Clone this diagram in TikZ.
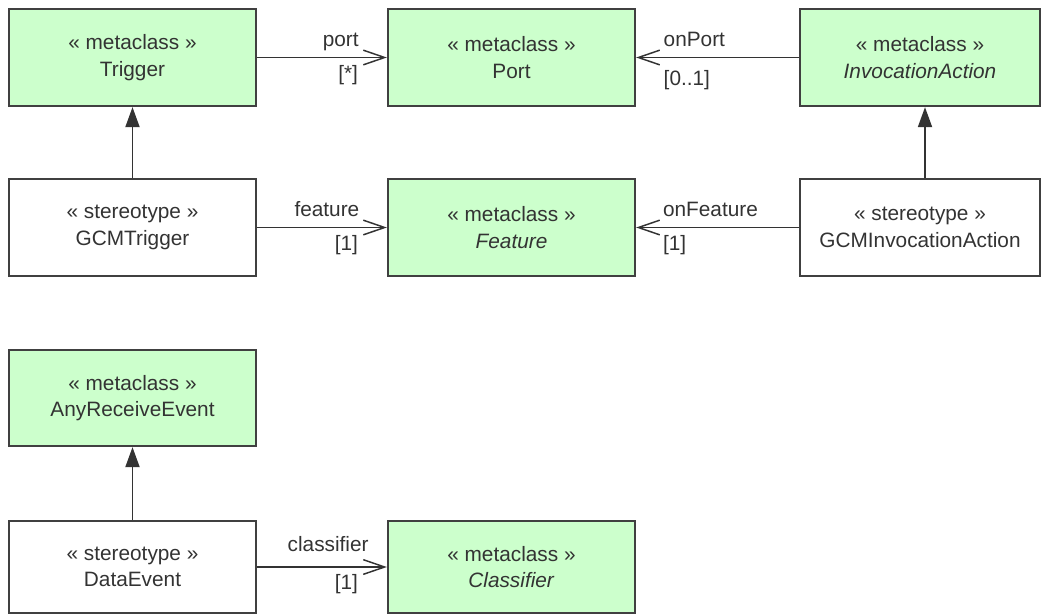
\documentclass[tikz,border=0pt]{standalone}
\usepackage{fontspec}
\setmainfont{Liberation Sans}
\usetikzlibrary{arrows.meta}
\definecolor{boxfill}{HTML}{CCFFCC}
\definecolor{boxline}{HTML}{404040}
\definecolor{txt}{HTML}{333333}
\tikzset{
  umlbox/.style={draw=boxline, line width=1.7pt, inner sep=0pt, align=center,
    text=txt, minimum width=185.25pt, minimum height=72.75pt},
  meta/.style={umlbox, fill=boxfill},
  stereo/.style={umlbox, fill=white},
  assoc/.style={draw=txt, line width=1.4pt, -{Straight Barb[length=16pt,width=11pt,line width=1.1pt]}},
  gen/.style={draw=txt, line width=1.4pt, -{Triangle[length=15pt,width=10.5pt]}},
  lbl/.style={inner sep=0pt, text=txt},
}
\begin{document}
\begin{tikzpicture}[x=0.75pt, y=-0.75pt, font=\fontsize{15.6}{20}\selectfont]
\useasboundingbox (0,0) rectangle (1042,615);
% row 1
\node[meta] (trigger) at (132.5,57.5) {« metaclass »\\Trigger};
\node[meta] (port) at (511.5,57.5) {« metaclass »\\Port};
\node[meta, minimum width=180pt] (ia) at (920,57.5) {« metaclass »\\\textit{InvocationAction}};
% row 2
\node[stereo] (gcmt) at (132.5,227.5) {« stereotype »\\GCMTrigger};
\node[meta] (feature) at (511.5,227.5) {« metaclass »\\\textit{Feature}};
\node[stereo, minimum width=180pt] (gia) at (920,227.5) {« stereotype »\\GCMInvocationAction};
% lower group
\node[meta, minimum height=72pt] (are) at (132.5,398) {« metaclass »\\AnyReceiveEvent};
\node[stereo, minimum height=69pt] (de) at (132.5,567) {« stereotype »\\DataEvent};
\node[meta, minimum height=69pt] (cls) at (511.5,567) {« metaclass »\\\textit{Classifier}};
% associations
\draw[assoc] (trigger.east) -- (port.west)
  node[lbl, pos=1, anchor=base east, xshift=-20.5pt, yshift=8pt] {port}
  node[lbl, pos=1, anchor=base east, xshift=-21pt, yshift=-17pt] {[*]};
\draw[assoc] (ia.west) -- (port.east)
  node[lbl, pos=1, anchor=base west, xshift=20pt, yshift=8pt] {onPort}
  node[lbl, pos=1, anchor=base west, xshift=20pt, yshift=-21pt] {[0..1]};
\draw[assoc] (gcmt.east) -- (feature.west)
  node[lbl, pos=1, anchor=base east, xshift=-20pt, yshift=8pt] {feature}
  node[lbl, pos=1, anchor=base east, xshift=-21pt, yshift=-17pt] {[1]};
\draw[assoc] (gia.west) -- (feature.east)
  node[lbl, pos=1, anchor=base west, xshift=19.5pt, yshift=8.5pt] {onFeature}
  node[lbl, pos=1, anchor=base west, xshift=19.5pt, yshift=-17pt] {[1]};
\draw[assoc] (de.east) -- (cls.west)
  node[lbl, pos=1, anchor=base east, xshift=-13pt, yshift=11.5pt] {classifier}
  node[lbl, pos=1, anchor=base east, xshift=-21pt, yshift=-17pt] {[1]};
% generalizations
\draw[gen] (gcmt.north) -- (trigger.south);
\draw[gen] ([xshift=3.75pt]gia.north) -- ([xshift=3.75pt]ia.south);
\draw[gen] (de.north) -- (are.south);
\end{tikzpicture}
\end{document}
